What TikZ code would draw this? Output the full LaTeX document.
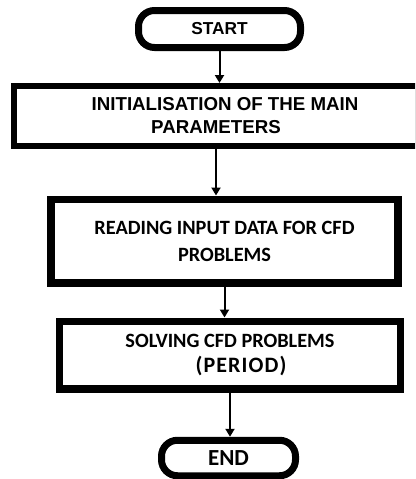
\documentclass[tikz,border=0pt]{standalone}
\usepackage{fontspec}
\setmainfont{Carlito}
\newfontfamily\arial{Liberation Sans}
\usetikzlibrary{arrows.meta}

\tikzset{
  term/.style={draw, line width=7pt, rounded corners=16pt, inner sep=0pt},
  proc/.style={draw, line width=7.5pt, inner sep=0pt, align=center},
  arr/.style={line width=2pt, -{Triangle[length=8pt,width=9pt]}}
}

\begin{document}
\begin{tikzpicture}[x=1pt,y=-1pt]
 \clip (0,0) rectangle (415,479); % 枠

 \node (S) [term, minimum width=162pt, minimum height=37pt,
   font=\arial\bfseries\fontsize{17.3}{20}\selectfont] at (219.5,29) {START}; % 開始
 \node (I) [proc, line width=6pt, minimum width=404pt, minimum height=60pt,
   font=\arial\bfseries\fontsize{18.7}{23}\selectfont] at (216,116)
   {\hspace*{18pt}INITIALISATION OF THE MAIN\\PARAMETERS}; % 初期化
 \node (R) [proc, minimum width=347pt, minimum height=83.5pt,
   font=\bfseries\fontsize{20.3}{27}\selectfont] at (224.5,241)
   {READING INPUT DATA FOR CFD\\PROBLEMS}; % 読込み
 \node (P) [proc, minimum width=341pt, minimum height=67.5pt,
   font=\bfseries\fontsize{20.3}{25}\selectfont] at (230,355)
   {SOLVING CFD PROBLEMS\\\hspace*{22pt}{\fontsize{22}{25}\selectfont\addfontfeature{LetterSpace=5}(PERIOD)}}; % 計算
 \node (E) [term, minimum width=134pt, minimum height=35.5pt,
   font=\bfseries\fontsize{23}{26}\selectfont] at (228.5,458) {END}; % 終了

 \draw [arr] (S.south) -- (S.south |- I.north);
 \draw [arr] (I.south) -- (I.south |- R.north);
 \draw [arr] (R.south) -- (R.south |- P.north);
 \draw [arr] (P.south) -- (P.south |- E.north);
\end{tikzpicture}
\end{document}
